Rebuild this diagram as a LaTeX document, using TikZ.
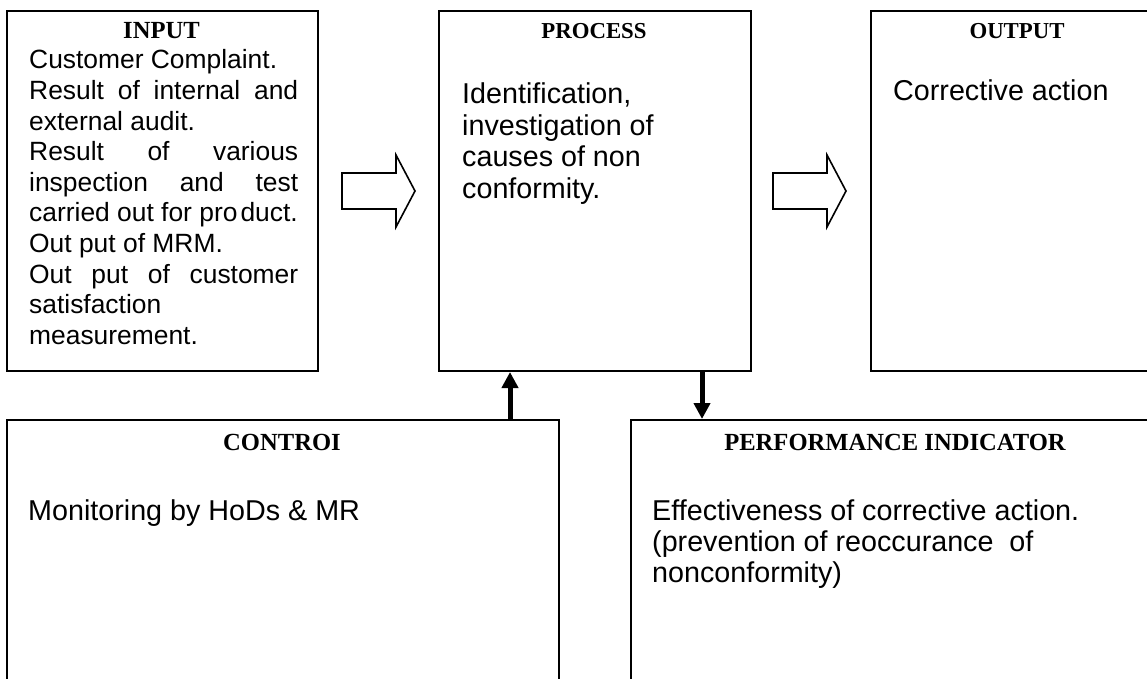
\documentclass[tikz,border=0pt]{standalone}
\usepackage{fontspec}
\setmainfont{Liberation Sans}
\newfontfamily\headfont{Liberation Serif}
\usetikzlibrary{arrows.meta}
\begin{document}
\begin{tikzpicture}[x=1pt,y=-1pt,
  box/.style={draw, line width=2pt, rectangle, anchor=north west, inner sep=0pt},
  headtxt/.style={font=\headfont\bfseries\fontsize{24.6}{28}\selectfont, anchor=base, inner sep=0pt},
  smallhead/.style={headtxt, font=\headfont\bfseries\fontsize{22.8}{26}\selectfont},
  bodytxt/.style={anchor=base west, inner sep=0pt},
  flow/.style={line width=5pt, -{Triangle[width=16pt,length=16pt]}},
  blockarr/.style={draw, line width=1.6pt, fill=white, line join=miter},
  pics/bigarrow/.style={code={
    \draw[blockarr] (0,-18) -- (54,-18) -- (54,-36) -- (73,0) -- (54,36) -- (54,18) -- (0,18) -- cycle;}}
]
\clip (0,0) rectangle (1147,679);
\fill[white] (0,0) rectangle (1147,679);

% boxes
\node[box, minimum width=311pt, minimum height=360pt] (input) at (6,10) {};
\node[box, minimum width=312pt, minimum height=360pt] (process) at (438,10) {};
\node[box, minimum width=300pt, minimum height=360pt] (output) at (870,10) {};
\node[box, minimum width=552pt, minimum height=300pt] (control) at (6,419) {};
\node[box, minimum width=540pt, minimum height=300pt] (perf) at (630,419) {};

% headings
\node[headtxt] (inputh) at (161.5,39) {INPUT};
\node[smallhead] (processh) at (594,39) {PROCESS};
\node[smallhead] (outputh) at (1017,39) {OUTPUT};
\node[headtxt] (controlh) at (282,450) {CONTROI};
\node[headtxt] (perfh) at (895,450) {PERFORMANCE INDICATOR};

% body texts
\node[bodytxt] (inputt) at (29,69) {\parbox[t]{269pt}{\fontsize{26.4}{30.6}\selectfont\setlength\parindent{0pt}%
Customer Complaint.\par
\hbox to\hsize{Result\hfill of\hfill internal\hfill and}
external audit.\par
\hbox to\hsize{Result\hfill of\hfill various}
\hbox to\hsize{inspection\hfill and\hfill test}
carried out for pro\kern3pt duct.\par
Out put of MRM.\par
\hbox to\hsize{Out\hfill put\hfill of\hfill customer}
satisfaction\par
measurement.\par}};

\node[bodytxt] (processt) at (462,104) {\parbox[t]{280pt}{\fontsize{28.7}{31.5}\selectfont\raggedright
Identification,\\investigation of\\causes of non\\conformity.}};

\node[bodytxt] (outputt) at (893,101) {\fontsize{28.7}{31}\selectfont Corrective action};

\node[bodytxt] (controlt) at (28,520) {\fontsize{28.7}{31}\selectfont Monitoring by HoDs \& MR};

\node[bodytxt] (perft) at (652,520) {\parbox[t]{480pt}{\fontsize{28.7}{31}\selectfont\raggedright
Effectiveness of corrective action.\\(prevention of reoccurance\ \ of\\nonconformity)}};

% block arrows
\coordinate (ba1) at (342,191);
\coordinate (ba2) at (773,191);
\pic at (ba1) {bigarrow};
\pic at (ba2) {bigarrow};

% vertical arrows
\coordinate (upx) at (510,0);
\coordinate (downx) at (702,0);
\draw[flow] (upx |- control.north) -- (upx |- process.south);
\draw[flow] (downx |- process.south) -- (downx |- perf.north);
\end{tikzpicture}
\end{document}
